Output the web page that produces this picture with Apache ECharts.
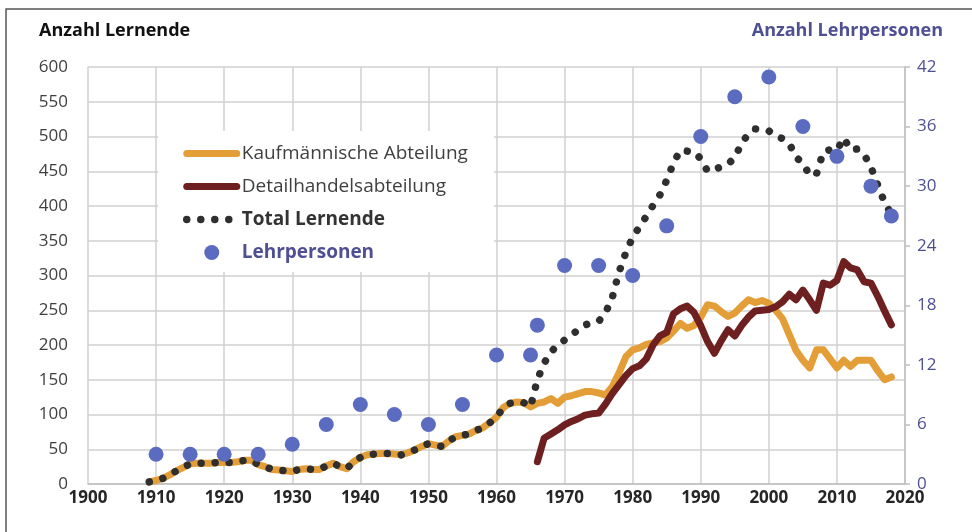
<!DOCTYPE html>
<html>
<head>
<meta charset="utf-8">
<script src="https://cdn.jsdelivr.net/npm/echarts@6/dist/echarts.min.js"></script>
<style>html,body{margin:0;padding:0;background:#fff}#c{width:972px;height:532px}</style>
</head>
<body>
<div id="c"></div>
<script>
// ---- data ----
const kYears = [1909,1910,1911,1912,1913,1914,1915,1916,1917,1918,1919,1920,1921,1922,1923,1924,1925,1926,1927,1928,1929,1930,1931,1932,1933,1934,1935,1936,1937,1938,1939,1940,1941,1942,1943,1944,1945,1946,1947,1948,1949,1950,1951,1952,1953,1954,1955,1956,1957,1958,1959,1960,1961,1962,1963,1964,1965,1966,1967,1968,1969,1970,1971,1972,1973,1974,1975,1976,1977,1978,1979,1980,1981,1982,1983,1984,1985,1986,1987,1988,1989,1990,1991,1992,1993,1994,1995,1996,1997,1998,1999,2000,2001,2002,2003,2004,2005,2006,2007,2008,2009,2010,2011,2012,2013,2014,2015,2016,2017,2018];
const kaufmaennisch = [3,5,8,13,19,24,29,30,30,30,31,31,31,32,34,34,28,25,21,20,19,18,21,22,21,21,26,30,25,22,32,38,42,43,44,44,43,42,45,49,54,58,56,54,62,68,70,72,77,81,88,96,110,116,118,117,111,116,118,123,116,125,127,130,133,133,131,128,140,160,183,193,196,201,203,205,210,220,231,224,228,240,258,256,248,241,246,256,265,261,264,260,250,238,215,192,178,167,193,193,180,167,178,169,178,178,178,163,150,154];
const totalYears = kYears;
const totalLernende = [3,5,8,13,19,24,29,30,30,30,31,31,31,32,34,34,28,25,21,20,19,18,21,22,21,21,26,30,25,22,32,38,42,43,44,44,43,42,45,49,54,58,56,54,62,68,70,72,77,81,88,96,110,116,118,117,111,150,174,190,200,207,214,222,229,232,234,246,268,305,333,355,370,385,401,416,437,462,480,479,478,468,450,453,456,460,470,490,504,511,510,508,501,497,490,470,462,444,446,478,481,480,498,481,482,474,456,430,405,388];
const dYears = [1966,1967,1968,1969,1970,1971,1972,1973,1974,1975,1976,1977,1978,1979,1980,1981,1982,1983,1984,1985,1986,1987,1988,1989,1990,1991,1992,1993,1994,1995,1996,1997,1998,1999,2000,2001,2002,2003,2004,2005,2006,2007,2008,2009,2010,2011,2012,2013,2014,2015,2016,2017,2018];
const detailhandel = [32,66,72,78,85,90,94,99,101,102,115,130,143,156,166,170,180,200,213,218,245,252,256,247,228,205,188,206,222,213,228,240,249,250,251,255,262,273,265,279,265,250,289,286,293,320,311,308,291,289,270,249,229];
const lehrYears = [1910,1915,1920,1925,1930,1935,1940,1945,1950,1955,1960,1965,1966,1970,1975,1980,1985,1990,1995,2000,2005,2010,2015,2018];
const lehrpersonen = [3,3,3,3,4,6,8,7,6,8,13,13,16,22,22,21,26,35,39,41,36,33,30,27];
const names = ['Kaufmännische Abteilung','Detailhandelsabteilung','Total Lernende','Lehrpersonen'];

function pairs(xs, ys){ return xs.map((x,i)=>[x, ys[i]]); }

const FONT = '"Open Sans", sans-serif';
const hideSym = {color:'rgba(0,0,0,0)', opacity:0, borderWidth:0};
const chart = echarts.init(document.getElementById('c'), null, {renderer:'canvas'});
chart.setOption({
  animation:false,
  backgroundColor:'#fff',
  textStyle:{fontFamily:FONT},
  title:[
    {text:'Anzahl Lernende', left:34, top:17, textStyle:{fontFamily:FONT, fontSize:18, fontWeight:'bold', color:'#111'}},
    {text:'Anzahl Lehrpersonen', right:24, top:17, textStyle:{fontFamily:FONT, fontSize:18, fontWeight:'bold', color:'#4f4f94'}}
  ],
  graphic:[{type:'rect', shape:{x:6,y:9,width:1000,height:600}, style:{fill:'none', stroke:'#555', lineWidth:1.5}, silent:true, z:-1}],
  grid:{left:88, right:67, top:67, bottom:48},
  legend:{
    orient:'vertical', left:158, top:131,
    padding:[13,26,10,25],
    backgroundColor:'#fff',
    itemWidth:50, itemHeight:15, itemGap:14,
    textStyle:{fontFamily:FONT, fontSize:19, color:'#404040'},
    lineStyle:{width:'inherit'},
    data:[
      {name:names[0], itemStyle:hideSym},
      {name:names[1], itemStyle:hideSym},
      {name:names[2], itemStyle:hideSym, textStyle:{fontWeight:'bold', color:'#333'}},
      {name:names[3], icon:'circle', textStyle:{fontWeight:'bold', color:'#4f4f94'}}
    ]
  },
  xAxis:{
    type:'value', min:1900, max:2020, interval:10,
    axisLine:{show:true, lineStyle:{color:'#bfbfbf', width:1.5}},
    axisTick:{show:false},
    splitLine:{show:true, lineStyle:{color:'#d0d0d0', width:1.5}},
    axisLabel:{formatter:v=>String(v), fontFamily:FONT, fontSize:17, fontWeight:'bold', color:'#262626', margin:6}
  },
  yAxis:[
    {type:'value', min:0, max:600, interval:50,
     axisLine:{show:false}, axisTick:{show:false},
     splitLine:{lineStyle:{color:'#d0d0d0', width:1.5}},
     axisLabel:{fontFamily:FONT, fontSize:17, color:'#404040', margin:20}},
    {type:'value', min:0, max:42, interval:6, position:'right',
     axisLine:{show:true, lineStyle:{color:'#bfbfbf', width:1.5}},
     axisTick:{show:true, inside:false, length:5, lineStyle:{color:'#bfbfbf', width:1.5}},
     splitLine:{show:false},
     axisLabel:{fontFamily:FONT, fontSize:17, color:'#4f4f94', margin:12}}
  ],
  series:[
    {name:names[0], type:'line', data:pairs(kYears,kaufmaennisch), symbol:'none', z:2,
     lineStyle:{color:'#e49e37', width:7, join:'round', cap:'round'}, itemStyle:{color:'#e49e37'}},
    {name:names[1], type:'line', data:pairs(dYears,detailhandel), symbol:'none', z:3,
     lineStyle:{color:'#6e1f1f', width:7, join:'round', cap:'round'}, itemStyle:{color:'#6e1f1f'}},
    {name:names[2], type:'line', data:pairs(totalYears,totalLernende), symbol:'none', z:4,
     lineStyle:{color:'#2f2f2f', width:7.5, type:[0.01,14], cap:'round', join:'round'}, itemStyle:{color:'#2f2f2f'}},
    {name:names[3], type:'scatter', yAxisIndex:1, data:pairs(lehrYears,lehrpersonen), symbol:'circle', symbolSize:15, z:5,
     itemStyle:{color:'#5b6bbf', opacity:1}}
  ]
});
</script>
</body>
</html>
